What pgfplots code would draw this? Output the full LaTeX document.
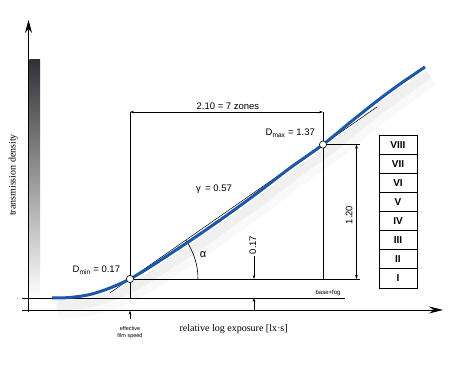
\documentclass[border=0pt]{standalone}
\usepackage{pgfplots}
\pgfplotsset{compat=1.18}
\usepackage{pgfplotstable}
\usepackage{fontspec}
\setmainfont{Liberation Sans}
\newfontfamily\serif{Liberation Serif}
\usetikzlibrary{arrows.meta}
\definecolor{curveblue}{RGB}{28,88,170}

\pgfplotstableread{
x y
0.1513 0.0000
0.3471 0.0045
0.5648 0.0313
0.7824 0.0893
1.0000 0.1700
1.2176 0.2768
1.4353 0.3929
1.7617 0.5714
2.0881 0.7589
2.4146 0.9554
2.7410 1.1607
3.1000 1.3700
3.3939 1.5670
3.6877 1.7589
3.9379 1.9107
4.2100 2.0625
}\curvedata

\pgfplotstableread{
x y
1.00 0.17
3.10 1.37
}\points

\tikzset{dim/.style={line width=0.5bp,{Stealth[length=4bp,width=2.6bp]}-{Stealth[length=4bp,width=2.6bp]}},
         dimend/.style={line width=0.5bp,-{Stealth[length=4bp,width=2.6bp]}}}

\begin{document}
\begin{tikzpicture}
\begin{axis}[width=451bp,height=367bp,scale only axis,
  xmin=-0.4146,xmax=4.4929,ymin=-0.6161,ymax=2.6607,
  hide axis,clip=false]
\path (axis cs:-0.4146,-0.6161) rectangle (axis cs:4.4929,2.6607);
% gradient density bar
\shade[top color={rgb,255:red,50;green,50;blue,54}, bottom color=white]
  (axis cs:-0.0958,0) rectangle (axis cs:0.0207,2.125);
% soft shadow under the curve
\addplot[no marks, smooth, draw=black, opacity=0.025, line width=18bp, xshift=6bp, yshift=-11bp] table {\curvedata};
\addplot[no marks, smooth, draw=black, opacity=0.035, line width=10bp, xshift=4bp, yshift=-7bp] table {\curvedata};
% axes
\draw[line width=0.8bp,-{Stealth[length=13bp,width=7bp]}] (axis cs:-0.1045,-0.125) -- (axis cs:-0.1045,2.482);
\draw[line width=0.8bp,-{Stealth[length=14bp,width=7bp]}] (axis cs:-0.175,-0.107) -- (axis cs:4.406,-0.107);
% base+fog line
\draw[line width=0.6bp] (axis cs:-0.175,0) -- (axis cs:3.339,0);
% construction lines
\draw[line width=0.6bp] (axis cs:1,1.6607) -- (axis cs:1,0);
\draw[line width=0.6bp] (axis cs:3.1,1.6607) -- (axis cs:3.1,0.17);
\draw[line width=0.6bp] (axis cs:1,0.17) -- (axis cs:3.503,0.17);
\draw[line width=0.6bp] (axis cs:3.1,1.37) -- (axis cs:3.503,1.37);
% dimensions
\draw[dim] (axis cs:1,1.6607) -- (axis cs:3.1,1.6607);
\node[font=\fontsize{9.5bp}{11bp}\selectfont] at (axis cs:2.066,1.712) {2.10 = 7 zones};
\draw[dim] (axis cs:3.4646,0.17) -- (axis cs:3.4646,1.37);
\node[font=\fontsize{9.5bp}{11bp}\selectfont,rotate=90] at (axis cs:3.383,0.741) {1.20};
\draw[dimend] (axis cs:2.349,0.375) -- (axis cs:2.349,0.17);
\draw[dimend] (axis cs:2.349,-0.107) -- (axis cs:2.349,0);
\node[font=\fontsize{9.5bp}{11bp}\selectfont,rotate=90] at (axis cs:2.338,0.473) {0.17};
% effective film speed
\draw[dimend] (axis cs:1,-0.185) -- (axis cs:1,-0.112);
\node[font=\fontsize{5.5bp}{6.5bp}\selectfont,align=center] at (axis cs:1,-0.31) {effective\\film speed};
\node[font=\fontsize{6bp}{7bp}\selectfont] at (axis cs:3.155,0.045) {base+fog};
% tangent line
\draw[line width=0.5bp] (axis cs:0.7824,0.0457) -- (axis cs:3.6877,1.7058);
% angle arc
\draw[line width=0.6bp] (axis cs:1,0.17) ++(0:68bp) arc[start angle=0,end angle=34.97,radius=68bp];
\node[font=\fontsize{11bp}{13bp}\selectfont] at (axis cs:1.794,0.384) {α};
\node[font=\fontsize{9.5bp}{11bp}\selectfont] at (axis cs:1.914,0.973) {γ\, = 0.57};
% curve
\addplot[no marks, smooth, draw=curveblue, line width=3bp] table {\curvedata};
% points
\addplot[only marks, mark=*, mark size=3.6bp, mark options={fill=white,draw=black,line width=0.6bp}] table {\points};
\node[font=\fontsize{9.5bp}{11bp}\selectfont,anchor=east] at (axis cs:0.93,0.25) {D\textsubscript{min} = 0.17};
\node[font=\fontsize{9.5bp}{11bp}\selectfont,anchor=east] at (axis cs:3.05,1.473) {D\textsubscript{max} = 1.37};
% zone boxes
\draw[line width=0.8bp] (axis cs:3.709,0.0894) rectangle (axis cs:4.123,1.455);
\draw[line width=0.8bp] (axis cs:3.709,1.2843) -- (axis cs:4.123,1.2843);
\draw[line width=0.8bp] (axis cs:3.709,1.1136) -- (axis cs:4.123,1.1136);
\draw[line width=0.8bp] (axis cs:3.709,0.9429) -- (axis cs:4.123,0.9429);
\draw[line width=0.8bp] (axis cs:3.709,0.7722) -- (axis cs:4.123,0.7722);
\draw[line width=0.8bp] (axis cs:3.709,0.6015) -- (axis cs:4.123,0.6015);
\draw[line width=0.8bp] (axis cs:3.709,0.4308) -- (axis cs:4.123,0.4308);
\draw[line width=0.8bp] (axis cs:3.709,0.2601) -- (axis cs:4.123,0.2601);
\node[font=\fontsize{10bp}{11bp}\selectfont\bfseries] at (axis cs:3.916,1.3697) {VIII};
\node[font=\fontsize{10bp}{11bp}\selectfont\bfseries] at (axis cs:3.916,1.1990) {VII};
\node[font=\fontsize{10bp}{11bp}\selectfont\bfseries] at (axis cs:3.916,1.0283) {VI};
\node[font=\fontsize{10bp}{11bp}\selectfont\bfseries] at (axis cs:3.916,0.8576) {V};
\node[font=\fontsize{10bp}{11bp}\selectfont\bfseries] at (axis cs:3.916,0.6869) {IV};
\node[font=\fontsize{10bp}{11bp}\selectfont\bfseries] at (axis cs:3.916,0.5162) {III};
\node[font=\fontsize{10bp}{11bp}\selectfont\bfseries] at (axis cs:3.916,0.3455) {II};
\node[font=\fontsize{10bp}{11bp}\selectfont\bfseries] at (axis cs:3.916,0.1748) {I};
% axis titles
\node[font=\serif\fontsize{10bp}{12bp}\selectfont,rotate=90] at (axis cs:-0.2698,1.098) {transmission density};
\node[font=\serif\fontsize{10bp}{12bp}\selectfont] at (axis cs:2.1273,-0.277) {relative log exposure [lx·s]};
\end{axis}
\end{tikzpicture}
\end{document}
